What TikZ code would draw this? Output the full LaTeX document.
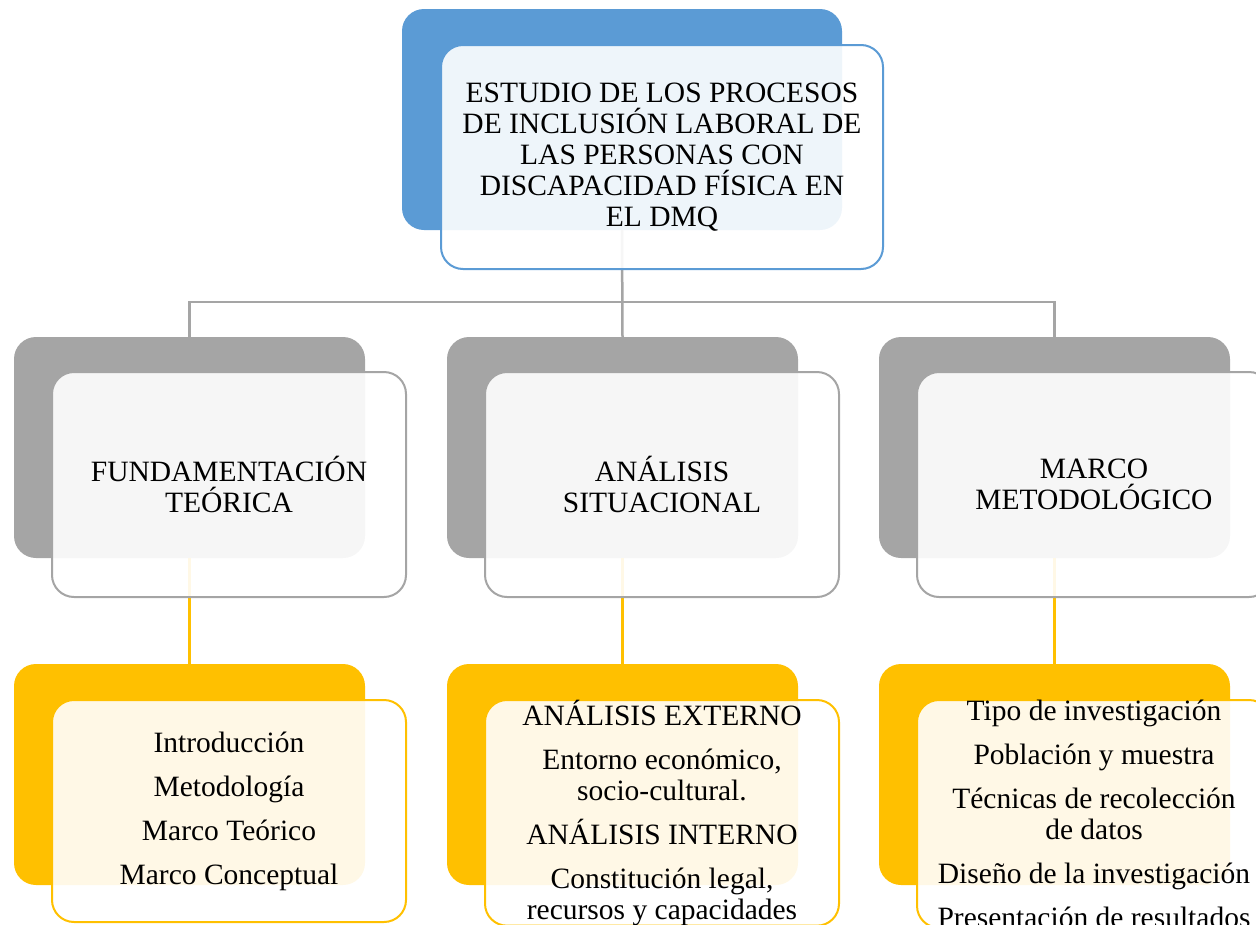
\documentclass[tikz,border=0pt]{standalone}
\usepackage{fontspec}
\setmainfont{Liberation Serif}
\definecolor{cblue}{HTML}{5B9BD5}
\definecolor{cgray}{HTML}{A5A5A5}
\definecolor{cyellow}{HTML}{FFC000}
\begin{document}
\begin{tikzpicture}[x=1pt,y=-1pt,
  back/.style={rectangle, rounded corners=22pt, anchor=north west,
    minimum width=351pt, minimum height=221pt, inner sep=0pt, outer sep=0pt, fill=#1},
  front/.style={rectangle, rounded corners=22pt, anchor=north west,
    minimum width=354pt, minimum height=224pt, inner sep=0pt, outer sep=0pt,
    draw=#1, line width=2pt, fill=white, fill opacity=0.9, text opacity=1,
    align=center, font=\fontsize{29.5}{31}\selectfont},
  conn/.style={draw=#1, line width=2.5pt}]
\path[use as bounding box] (0,0) rectangle (1256,924);
\clip (0,0) rectangle (1256,924);
% back boxes
\node[back=cblue, minimum width=440pt] (b0) at (402,9) {};
\node[back=cgray] (b1) at (14,337) {};
\node[back=cgray] (b2) at (447,337) {};
\node[back=cgray] (b3) at (879,337) {};
\node[back=cyellow] (c1) at (14,664) {};
\node[back=cyellow] (c2) at (447,664) {};
\node[back=cyellow] (c3) at (879,664) {};
% connectors
\draw[conn=cgray] (b0.south) -- ++(0,72) -| (b1.north);
\draw[conn=cgray] (b0.south) -- ++(0,72) -| (b3.north);
\draw[conn=cgray] (b0.south) -- (b2.north);
\draw[conn=cyellow] (b1.south) -- (c1.north);
\draw[conn=cyellow] (b2.south) -- (c2.north);
\draw[conn=cyellow] (b3.south) -- (c3.north);
% front boxes
\node[front=cblue, minimum width=442pt] (f0) at (441,45)
  {ESTUDIO DE LOS PROCESOS\\DE INCLUSIÓN LABORAL DE\\LAS PERSONAS CON\\DISCAPACIDAD FÍSICA EN\\EL DMQ};
\node[front=cgray, minimum height=225pt] (g1) at (52,372) {FUNDAMENTACIÓN\\TEÓRICA};
\node[front=cgray, minimum height=225pt] (g2) at (485,372) {ANÁLISIS\\SITUACIONAL};
\node[front=cgray, minimum height=225pt] (g3) at (917,372) {MARCO\\METODOLÓGICO};
\node[front=cyellow, minimum height=222pt] (h1) at (52,700)
  {Introducción\\[13pt]Metodología\\[13pt]Marco Teórico\\[13pt]Marco Conceptual};
\node[front=cyellow, minimum height=222pt] (h2) at (485,700)
  {ANÁLISIS EXTERNO\\[13pt]Entorno económico,\\socio-cultural.\\[13pt]ANÁLISIS INTERNO\\[13pt]Constitución legal,\\recursos y capacidades};
\node[front=cyellow, minimum height=222pt] (h3) at (917,700)
  {Tipo de investigación\\[13pt]Población y muestra\\[13pt]Técnicas de recolección\\de datos\\[13pt]Diseño de la investigación\\[13pt]Presentación de resultados};
\end{tikzpicture}
\end{document}
